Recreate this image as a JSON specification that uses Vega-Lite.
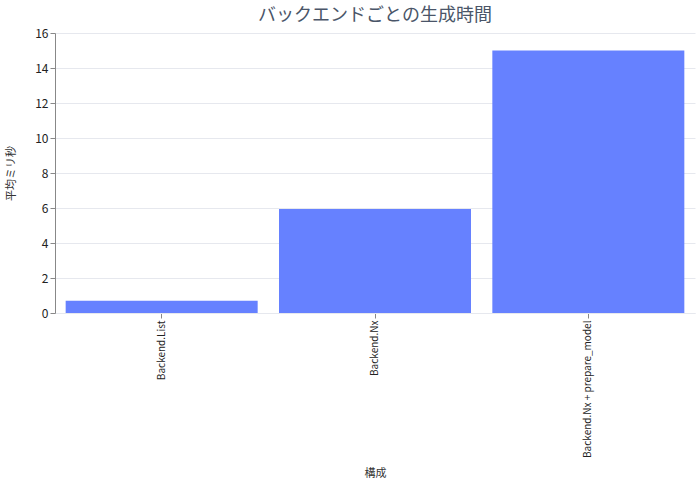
{
  "$schema": "https://vega.github.io/schema/vega-lite/v6.json",
  "autosize": "none",
  "padding": {"left": 55, "top": 33, "right": 5, "bottom": 171},
  "width": 640,
  "height": 280,
  "title": {
    "text": "バックエンドごとの生成時間",
    "fontSize": 18,
    "fontWeight": "normal",
    "color": "#4a5568",
    "font": "Noto Sans CJK JP",
    "offset": 2
  },
  "data": {
    "values": [
      {"config": "Backend.List", "ms": 0.7},
      {"config": "Backend.Nx", "ms": 5.95},
      {"config": "Backend.Nx + prepare_model", "ms": 15.0}
    ]
  },
  "mark": {"type": "bar", "color": "#6681ff"},
  "encoding": {
    "x": {
      "field": "config",
      "type": "nominal",
      "title": "構成",
      "sort": null,
      "scale": {"paddingInner": 0.1, "paddingOuter": 0.05},
      "axis": {"labelAngle": -90, "titlePadding": 10, "labelFontSize": 10}
    },
    "y": {
      "field": "ms",
      "type": "quantitative",
      "title": "平均ミリ秒",
      "scale": {"domain": [0, 16]},
      "axis": {"tickCount": 8, "titlePadding": 18}
    }
  },
  "config": {
    "font": "Noto Sans CJK JP",
    "view": {"stroke": null},
    "axis": {
      "labelFont": "Noto Sans CJK JP",
      "titleFont": "Noto Sans CJK JP",
      "labelFontSize": 11,
      "titleFontSize": 11,
      "titleFontWeight": "normal",
      "labelColor": "#222222",
      "titleColor": "#333333",
      "gridColor": "#e6e8ee",
      "domainColor": "#888888",
      "tickColor": "#888888"
    },
    "axisY": {"labelFontSize": 12},
    "axisX": {"grid": false, "domainColor": "#e6e8ee"}
  }
}
